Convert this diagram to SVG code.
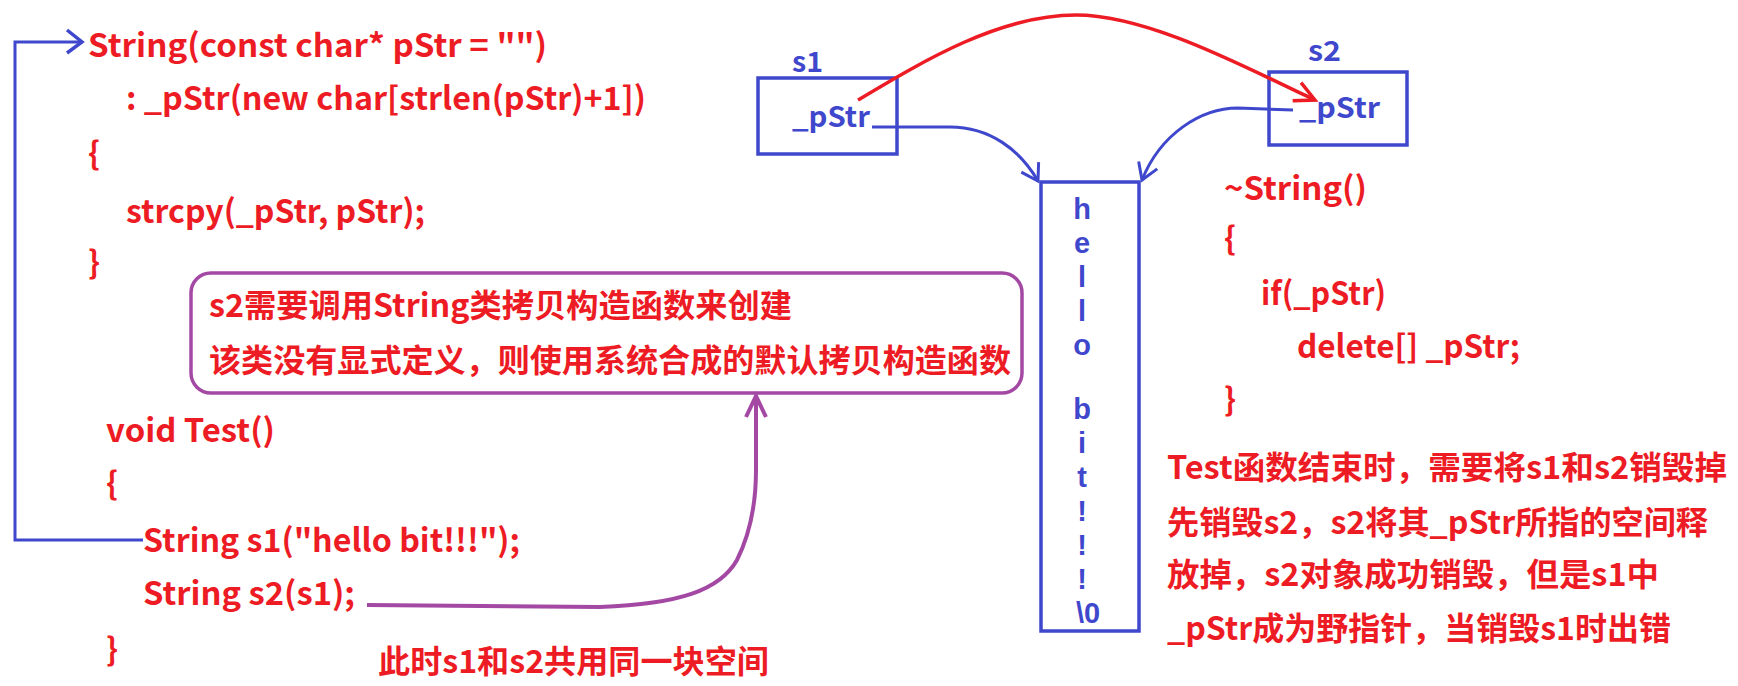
<svg xmlns="http://www.w3.org/2000/svg" width="1738" height="686" viewBox="0 0 1738 686">
<style>
text { font-family: "Noto Sans CJK SC", "Noto Sans", sans-serif; font-weight: bold; }
.r { fill: #ED1C24; font-size: 32px; }
.b { fill: #3F48CC; font-size: 28px; }
.h { fill: #3F48CC; font-size: 29px; text-anchor: middle; font-family: "Liberation Sans", Arial, sans-serif; }
.box { fill: none; stroke: #3F48CC; stroke-width: 3.5; }
.note { fill: none; stroke: #A349A4; stroke-width: 3.5; }
.cb { fill: none; stroke: #3F48CC; stroke-width: 3; }
.cr { fill: none; stroke: #ED1C24; stroke-width: 3.5; }
.cp { fill: none; stroke: #A349A4; stroke-width: 4; }
</style>
<defs>
<marker id="ab" markerUnits="userSpaceOnUse" orient="auto" overflow="visible" markerWidth="1" markerHeight="1" refX="0" refY="0">
<path d="M -16 -10 L 0 0 L -16 10" fill="none" stroke="#3F48CC" stroke-width="3"/>
</marker>
<marker id="ab2" markerUnits="userSpaceOnUse" orient="auto" overflow="visible" markerWidth="1" markerHeight="1" refX="0" refY="0">
<path d="M -15 -12 L 0 0 L -15 11" fill="none" stroke="#3F48CC" stroke-width="3.5"/>
</marker>
<marker id="ar" markerUnits="userSpaceOnUse" orient="auto" overflow="visible" markerWidth="1" markerHeight="1" refX="0" refY="0">
<path d="M -20 -10 L 0 0 L -20 10" fill="none" stroke="#ED1C24" stroke-width="3.5"/>
</marker>
<marker id="ap" markerUnits="userSpaceOnUse" orient="auto" overflow="visible" markerWidth="1" markerHeight="1" refX="0" refY="0">
<path d="M -21 -10 L 0 0 L -21 10" fill="none" stroke="#A349A4" stroke-width="4"/>
</marker>
</defs>
<rect width="1738" height="686" fill="#FFFFFF"/>

<g id="constructor">
<text class="r" x="88" y="57" textLength="459" lengthAdjust="spacingAndGlyphs">String(const char* pStr = "")</text>
<text class="r" x="126" y="110" textLength="520" lengthAdjust="spacingAndGlyphs">: _pStr(new char[strlen(pStr)+1])</text>
<text class="r" x="88" y="165">{</text>
<text class="r" x="126" y="223" textLength="299" lengthAdjust="spacingAndGlyphs">strcpy(_pStr, pStr);</text>
<text class="r" x="88" y="274">}</text>
</g>

<g id="copy-note">
<rect class="note" x="191" y="273" width="831" height="120" rx="20" ry="20"/>
<text class="r" x="209" y="317" textLength="583" lengthAdjust="spacingAndGlyphs">s2需要调用String类拷贝构造函数来创建</text>
<text class="r" x="209" y="372" textLength="802" lengthAdjust="spacingAndGlyphs">该类没有显式定义，则使用系统合成的默认拷贝构造函数</text>
</g>

<g id="test-func">
<text class="r" x="106" y="442" textLength="169" lengthAdjust="spacingAndGlyphs">void Test()</text>
<text class="r" x="106" y="495">{</text>
<text class="r" x="143" y="552" textLength="377" lengthAdjust="spacingAndGlyphs">String s1("hello bit!!!");</text>
<text class="r" x="143" y="605" textLength="212" lengthAdjust="spacingAndGlyphs">String s2(s1);</text>
<text class="r" x="106" y="661">}</text>
</g>

<g id="share-note">
<text class="r" x="378" y="673" textLength="391" lengthAdjust="spacingAndGlyphs">此时s1和s2共用同一块空间</text>
</g>

<g id="s1">
<text class="b" x="792" y="72" textLength="31" lengthAdjust="spacingAndGlyphs">s1</text>
<rect class="box" x="758" y="78" width="139" height="76"/>
<text class="b" x="792" y="127" textLength="78" lengthAdjust="spacingAndGlyphs">_pStr</text>
</g>

<g id="s2">
<text class="b" x="1308" y="61" textLength="33" lengthAdjust="spacingAndGlyphs">s2</text>
<rect class="box" x="1269" y="72" width="138" height="73"/>
<text class="b" x="1299" y="118" textLength="81" lengthAdjust="spacingAndGlyphs">_pStr</text>
</g>

<g id="heap">
<rect class="box" x="1041" y="182" width="98" height="449" stroke-width="4"/>
<text class="h"><tspan x="1082" y="219">h</tspan><tspan x="1082" y="253">e</tspan><tspan x="1082" y="287">l</tspan><tspan x="1082" y="321">l</tspan><tspan x="1082" y="355">o</tspan><tspan x="1082" y="419">b</tspan><tspan x="1082" y="453">i</tspan><tspan x="1082" y="487">t</tspan><tspan x="1082" y="521">!</tspan><tspan x="1082" y="555">!</tspan><tspan x="1082" y="589">!</tspan><tspan x="1088" y="623">\0</tspan></text>
</g>

<g id="destructor">
<text class="r" x="1224" y="200" textLength="143" lengthAdjust="spacingAndGlyphs">~String()</text>
<text class="r" x="1224" y="250">{</text>
<text class="r" x="1261" y="305" textLength="125" lengthAdjust="spacingAndGlyphs">if(_pStr)</text>
<text class="r" x="1297" y="358" textLength="223" lengthAdjust="spacingAndGlyphs">delete[] _pStr;</text>
<text class="r" x="1224" y="411">}</text>
</g>

<g id="explain">
<text class="r" x="1167" y="479" textLength="560" lengthAdjust="spacingAndGlyphs">Test函数结束时，需要将s1和s2销毁掉</text>
<text class="r" x="1167" y="534" textLength="541" lengthAdjust="spacingAndGlyphs">先销毁s2，s2将其_pStr所指的空间释</text>
<text class="r" x="1167" y="586" textLength="492" lengthAdjust="spacingAndGlyphs">放掉，s2对象成功销毁，但是s1中</text>
<text class="r" x="1167" y="640" textLength="504" lengthAdjust="spacingAndGlyphs">_pStr成为野指针，当销毁s1时出错</text>
</g>

<g id="connectors">
<path class="cb" d="M 143 540 L 15 540 L 15 42 L 82 42" stroke-width="3.5" marker-end="url(#ab2)"/>
<path class="cb" d="M 872 127 L 950 127 C 990 127, 1020 150, 1038 181" marker-end="url(#ab)"/>
<path class="cb" d="M 1293 110 L 1238 108 C 1200 108, 1160 135, 1142 180" marker-end="url(#ab)"/>
<path class="cr" d="M 858 100 C 925 60, 1000 15, 1076 15 C 1150 15, 1250 70, 1315 100" marker-end="url(#ar)"/>
<path class="cp" d="M 367 605 L 600 607 C 680 604, 720 590, 737 560 C 752 530, 756 500, 756 470 L 756 396" marker-end="url(#ap)"/>
</g>
</svg>
